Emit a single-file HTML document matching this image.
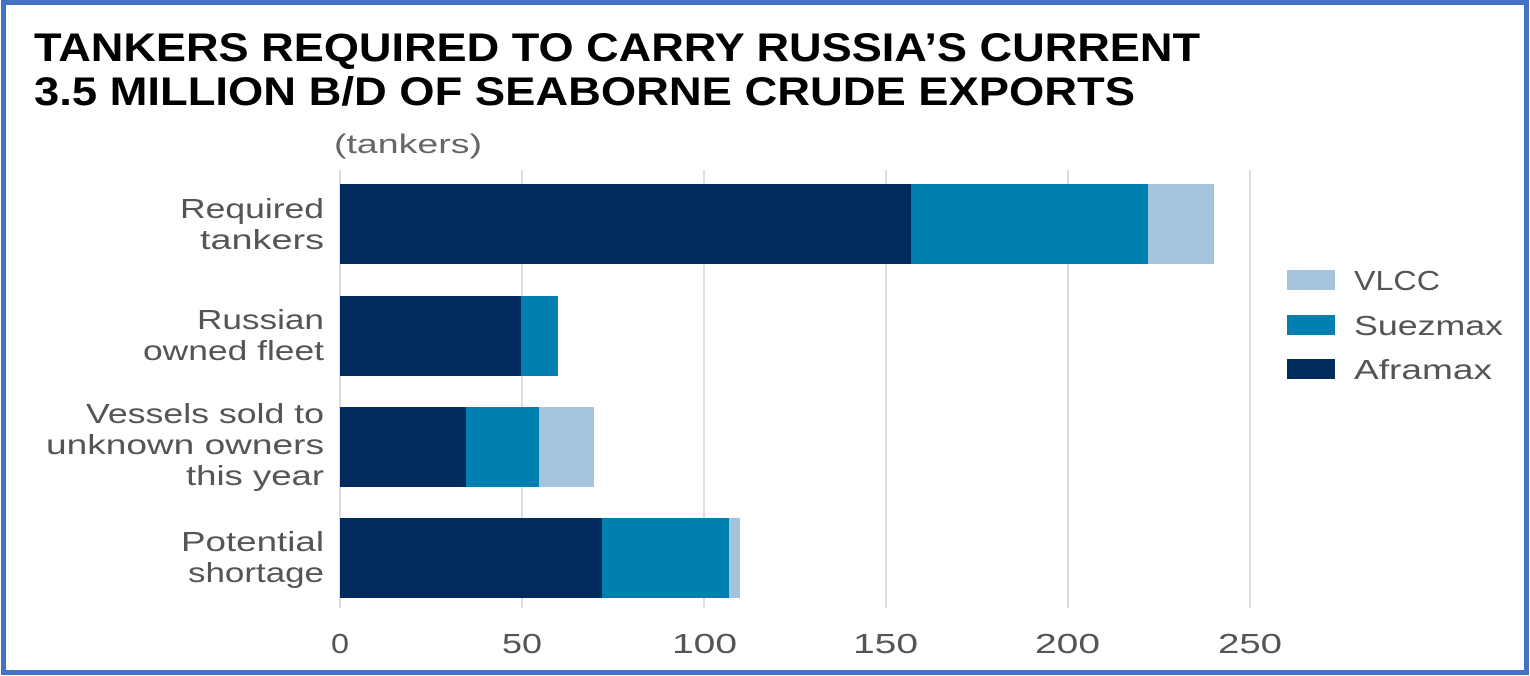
<!DOCTYPE html>
<html><head><style>
html,body{margin:0;padding:0;background:#fff;}
svg{display:block;}
text{font-family:"Liberation Sans",sans-serif;}
</style></head><body>
<svg width="1530" height="676" viewBox="0 0 1530 676" xmlns="http://www.w3.org/2000/svg">
<rect x="0" y="0" width="1530" height="676" fill="#fff"/>
<rect x="3.5" y="2.5" width="1523" height="670" fill="none" stroke="#4472C4" stroke-width="5"/>
<text x="34" y="61" font-size="40" font-weight="bold" fill="#000" textLength="1166" lengthAdjust="spacingAndGlyphs">TANKERS REQUIRED TO CARRY RUSSIA’S CURRENT</text>
<text x="34" y="105" font-size="40" font-weight="bold" fill="#000" textLength="1101" lengthAdjust="spacingAndGlyphs">3.5 MILLION B/D OF SEABORNE CRUDE EXPORTS</text>
<text x="334" y="153" font-size="27" fill="#666" textLength="148" lengthAdjust="spacingAndGlyphs">(tankers)</text>
<g stroke="#ddd" stroke-width="2">
<line x1="340" y1="170" x2="340" y2="608"/>
<line x1="522" y1="170" x2="522" y2="608"/>
<line x1="704" y1="170" x2="704" y2="608"/>
<line x1="886" y1="170" x2="886" y2="608"/>
<line x1="1068" y1="170" x2="1068" y2="608"/>
<line x1="1250" y1="170" x2="1250" y2="608"/>
</g>
<g>
<rect x="340" y="184" width="571" height="80" fill="#002B5C"/>
<rect x="911" y="184" width="237" height="80" fill="#0080B0"/>
<rect x="1148" y="184" width="66" height="80" fill="#A3C4DC"/>
<rect x="340" y="296" width="181" height="80" fill="#002B5C"/>
<rect x="521" y="296" width="37" height="80" fill="#0080B0"/>
<rect x="340" y="407" width="126" height="80" fill="#002B5C"/>
<rect x="466" y="407" width="73" height="80" fill="#0080B0"/>
<rect x="539" y="407" width="55" height="80" fill="#A3C4DC"/>
<rect x="340" y="518" width="262" height="80" fill="#002B5C"/>
<rect x="602" y="518" width="127" height="80" fill="#0080B0"/>
<rect x="729" y="518" width="11" height="80" fill="#A3C4DC"/>
</g>
<g font-size="28" fill="#555" lengthAdjust="spacingAndGlyphs">
<text x="180" y="218" textLength="144" lengthAdjust="spacingAndGlyphs">Required</text>
<text x="200" y="249" textLength="124" lengthAdjust="spacingAndGlyphs">tankers</text>
<text x="197" y="329" textLength="127" lengthAdjust="spacingAndGlyphs">Russian</text>
<text x="143" y="360" textLength="181" lengthAdjust="spacingAndGlyphs">owned fleet</text>
<text x="86" y="423" textLength="238" lengthAdjust="spacingAndGlyphs">Vessels sold to</text>
<text x="46" y="454" textLength="278" lengthAdjust="spacingAndGlyphs">unknown owners</text>
<text x="186" y="485" textLength="138" lengthAdjust="spacingAndGlyphs">this year</text>
<text x="181" y="551" textLength="143" lengthAdjust="spacingAndGlyphs">Potential</text>
<text x="188" y="582" textLength="136" lengthAdjust="spacingAndGlyphs">shortage</text>
</g>
<g font-size="28" fill="#555">
<text x="331" y="653" textLength="18" lengthAdjust="spacingAndGlyphs">0</text>
<text x="502" y="653" textLength="40" lengthAdjust="spacingAndGlyphs">50</text>
<text x="672" y="653" textLength="65" lengthAdjust="spacingAndGlyphs">100</text>
<text x="853" y="653" textLength="65" lengthAdjust="spacingAndGlyphs">150</text>
<text x="1035" y="653" textLength="65" lengthAdjust="spacingAndGlyphs">200</text>
<text x="1218" y="653" textLength="64" lengthAdjust="spacingAndGlyphs">250</text>
</g>
<rect x="1287" y="270" width="48" height="20" fill="#A3C4DC"/>
<rect x="1287" y="315" width="48" height="20" fill="#0080B0"/>
<rect x="1287" y="359" width="48" height="20" fill="#002B5C"/>
<g font-size="28" fill="#555">
<text x="1354" y="290" textLength="86" lengthAdjust="spacingAndGlyphs">VLCC</text>
<text x="1354" y="335" textLength="149" lengthAdjust="spacingAndGlyphs">Suezmax</text>
<text x="1354" y="379" textLength="138" lengthAdjust="spacingAndGlyphs">Aframax</text>
</g>
</svg>
</body></html>
